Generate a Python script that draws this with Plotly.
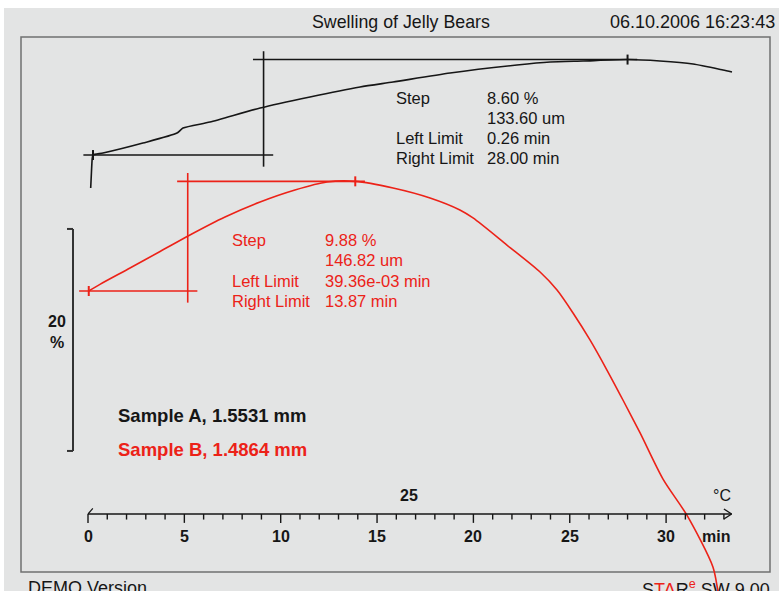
import numpy as np
import plotly.graph_objects as go

W, H = 779, 591

# ---- measured curves -------------------------------------------------------
# Sample A (black): time in min, swelling in % relative to the left limit
time_a = [0.14, 0.18, 0.22, 0.26, 0.78, 2.85, 4.62, 4.93, 6.33, 8.93, 11.52,
          14.12, 15.83, 18.79, 22.26, 23.98, 25.69, 28.00, 29.68, 31.40,
          32.95, 33.42]
swell_a = [-2.97, -1.50, -0.30, 0.00, 0.18, 1.08, 1.98, 2.43, 2.97, 4.23, 5.23,
           6.13, 6.58, 7.39, 8.11, 8.38, 8.47, 8.60, 8.47, 8.20, 7.66, 7.48]

# Sample B (red)
time_b = [0.04, 0.62, 2.18, 3.74, 5.29, 7.11, 8.93, 10.74, 12.40, 13.87,
          15.83, 17.75, 19.30, 19.98, 21.74, 23.46, 24.34, 25.17, 26.05,
          26.93, 27.76, 28.65, 29.84, 31.08, 32.43, 32.69, 32.85]
swell_b = [0.00, 0.60, 2.07, 3.56, 5.05, 6.67, 8.02, 9.10, 9.82, 9.88, 9.28,
           8.38, 7.30, 6.58, 4.14, 1.71, 0.09, -1.98, -4.41, -7.12, -9.82,
           -12.79, -16.95, -20.20, -24.86, -27.03, -28.50]

# step evaluations
step_a, step_b = 8.60, 9.88
step_um_a, step_um_b = "133.60 um", "146.82 um"
left_a, right_a = 0.26, 28.00
left_b, right_b = 39.36e-3, 13.87
left_txt_a, right_txt_a = "0.26 min", "28.00 min"
left_txt_b, right_txt_b = "39.36e-03 min", "13.87 min"

samples = ["Sample A, 1.5531 mm", "Sample B, 1.4864 mm"]
time_ticks = list(range(0, 34))
time_labels = [0, 5, 10, 15, 20, 25, 30]

# ---- display scaling --------------------------------------------------------
PX_PER_MIN = 19.27
PX_PER_PCT = 11.1
X_ORIGIN_PX = 88
Y_ORIGIN_PX = 291
OFFSET_A = 12.25          # vertical shift of curve A on the % scale
AXIS_V = -20.09           # time axis position on the % scale
BAR_TOP = 5.59            # top of the 20 % scale bar

x_range = [-X_ORIGIN_PX / PX_PER_MIN, (W - X_ORIGIN_PX) / PX_PER_MIN]
y_range = [(Y_ORIGIN_PX - H) / PX_PER_PCT, Y_ORIGIN_PX / PX_PER_PCT]

BLACK = "#161616"
RED = "#ec2218"
BG = "#e3e4e4"
FONT = "Liberation Sans, Arial, sans-serif"


def px(x):
    return x / W


def py(y):
    return 1 - y / H


fig = go.Figure()

ya = [v + OFFSET_A for v in swell_a]
fig.add_trace(go.Scatter(x=time_a, y=ya, mode="lines",
                         line=dict(color=BLACK, width=1.6, shape="spline",
                                   smoothing=0.6),
                         hoverinfo="skip"))
fig.add_trace(go.Scatter(x=time_b, y=swell_b, mode="lines",
                         line=dict(color=RED, width=1.6, shape="spline",
                                   smoothing=0.8),
                         hoverinfo="skip"))

shapes = []
annotations = []


def seg(x0, y0, x1, y1, color, width=1.6):
    shapes.append(dict(type="line", xref="x", yref="y", x0=x0, y0=y0,
                       x1=x1, y1=y1, line=dict(color=color, width=width)))


def text(x, y, s, size=14, color=BLACK, bold=False, xanchor="left"):
    s = f"<b>{s}</b>" if bold else s
    annotations.append(dict(xref="paper", yref="paper", x=px(x), y=py(y),
                            text=s, showarrow=False, xanchor=xanchor,
                            yanchor="middle",
                            font=dict(family=FONT, size=size, color=color)))


# panel and frame
shapes.append(dict(type="rect", xref="paper", yref="paper", x0=px(4), y0=py(8),
                   x1=1, y1=0, fillcolor=BG, line=dict(width=0), layer="below"))
shapes.append(dict(type="rect", xref="paper", yref="paper", x0=px(21),
                   y0=py(37), x1=px(770), y1=py(572),
                   line=dict(color="#707070", width=1.5), layer="below"))


# step evaluation construction lines
def step_lines(t, v, left, right, step, offset, color):
    base = float(np.interp(left, t, v)) + offset
    top = base + step
    t_arr = np.array(t)
    rising = t_arr <= right
    half = base - offset + step / 2
    t_mid = float(np.interp(half, np.array(v)[rising], t_arr[rising]))
    seg(left - 0.5, base, t_mid + 0.5, base, color)
    seg(t_mid - 0.55, top, right + 0.5, top, color)
    seg(t_mid, base - 1.05, t_mid, top + 0.75, color)
    # limit marks on the curve
    for tl, vl in ((left, base), (right, top)):
        seg(tl, vl - 0.45, tl, vl + 0.45, color, width=2)


step_lines(time_a, swell_a, left_a, right_a, step_a, OFFSET_A, BLACK)
step_lines(time_b, swell_b, left_b, right_b, step_b, 0.0, RED)

# 20 % scale bar
bar_bot = BAR_TOP - 20
bar_x = x_range[0] + 73 / PX_PER_MIN
bar_serif = x_range[0] + 67 / PX_PER_MIN
seg(bar_x, BAR_TOP, bar_x, bar_bot, "#333333", width=2)
seg(bar_serif, BAR_TOP, bar_x, BAR_TOP, "#333333", width=2)
seg(bar_serif, bar_bot, bar_x, bar_bot, "#333333", width=2)

# time axis with arrow
t_end = 33.4
seg(0, AXIS_V, t_end, AXIS_V, BLACK, width=1.6)
seg(t_end - 0.4, AXIS_V + 0.45, t_end, AXIS_V, BLACK, width=1.4)
seg(t_end - 0.4, AXIS_V - 0.45, t_end, AXIS_V, BLACK, width=1.4)
seg(0, AXIS_V, 0.25, AXIS_V + 0.5, BLACK, width=1.2)
for tk in time_ticks:
    depth = 0.8 if tk % 5 == 0 else 0.5
    seg(tk, AXIS_V, tk, AXIS_V - depth, BLACK, width=1.4)
for lab in time_labels:
    annotations.append(dict(xref="x", yref="y", x=lab, y=AXIS_V, yshift=-22,
                            text=f"<b>{lab}</b>", showarrow=False,
                            xanchor="center", yanchor="middle",
                            font=dict(family=FONT, size=16, color=BLACK)))

# texts
text(401, 22, "Swelling of Jelly Bears", size=17.8, xanchor="center")
text(608, 22, "06.10.2006 16:23:43", size=18)

rows_a = [("Step", f"{step_a:.2f} %"), ("", step_um_a),
          ("Left Limit", left_txt_a), ("Right Limit", right_txt_a)]
for i, (k, val) in enumerate(rows_a):
    y = 98 + 20 * i
    if k:
        text(394, y, k, size=16.5, color=BLACK)
    text(485, y, val, size=16.5, color=BLACK)

rows_b = [("Step", f"{step_b:.2f} %"), ("", step_um_b),
          ("Left Limit", left_txt_b), ("Right Limit", right_txt_b)]
for i, (k, val) in enumerate(rows_b):
    y = 240 + 20.3 * i
    if k:
        text(230, y, k, size=16.5, color=RED)
    text(323, y, val, size=16.5, color=RED)

text(57, 321, "20", size=16, bold=True, xanchor="center")
text(57, 342, "%", size=16, bold=True, xanchor="center")
text(116, 415, samples[0], size=18.5, bold=True, color=BLACK)
text(116, 449, samples[1], size=18.5, bold=True, color=RED)
text(409, 495, "25", size=16, bold=True, xanchor="center")
text(722, 495, "°C", size=16, xanchor="center")
text(716, 536, "min", size=16, bold=True, xanchor="center")
text(26, 588, "DEMO Version", size=18)
text(772, 588, f"S<span style='color:{RED}'>TA</span>R"
     f"<sup><span style='color:{RED}'>e</span></sup> SW 9.00",
     size=18, xanchor="right")

fig.update_layout(
    width=W, height=H,
    margin=dict(l=0, r=0, t=0, b=0),
    paper_bgcolor="white", plot_bgcolor="rgba(0,0,0,0)",
    showlegend=False,
    xaxis=dict(range=x_range, visible=False, fixedrange=True),
    yaxis=dict(range=y_range, visible=False, fixedrange=True),
    shapes=shapes, annotations=annotations,
)

fig.write_html("out.html")
